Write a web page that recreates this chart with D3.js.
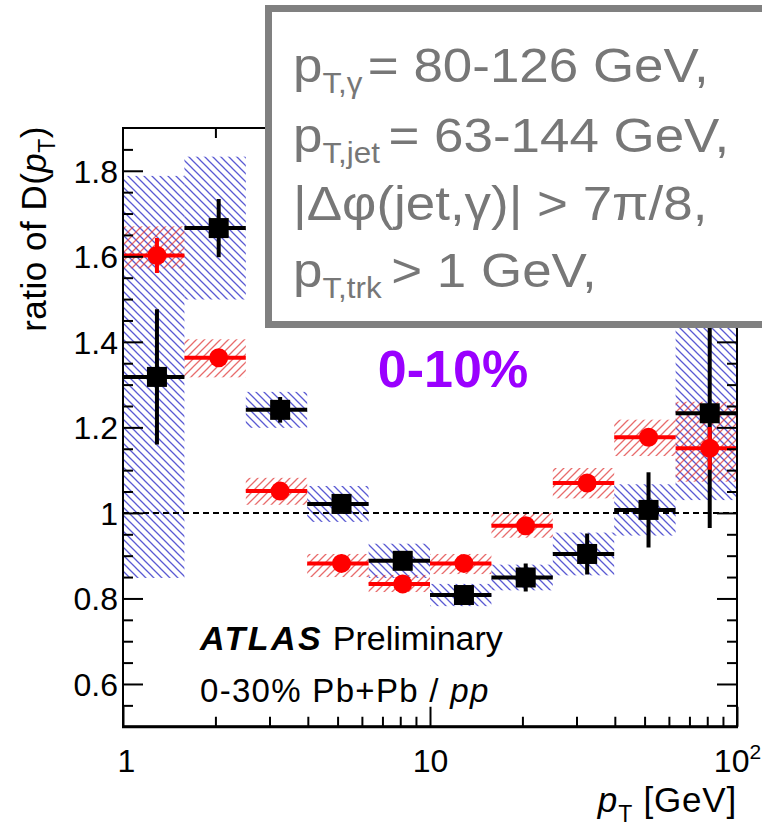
<!DOCTYPE html>
<html>
<head>
<meta charset="utf-8">
<script src="https://cdn.jsdelivr.net/npm/d3@7"></script>
<style>
  html, body { margin: 0; padding: 0; background: #fff; }
  svg { display: block; font-family: "Liberation Sans", Arial, Helvetica, sans-serif; }
</style>
</head>
<body>
<svg id="chart" width="762" height="829"></svg>
<script>
// pT bins (GeV): bin edges and bin centres
const binEdges = [1, 1.585, 2.512, 3.981, 6.310, 10, 15.85, 25.12, 39.81, 63.10, 100];
const binCenters = [1.29, 2.05, 3.25, 5.15, 8.15, 12.9, 20.5, 32.5, 51.5, 81.5];

// black squares: ratio, statistical and systematic uncertainties
const blackRatio = [1.318, 1.666, 1.241, 1.021, 0.888, 0.808, 0.849, 0.904, 1.007, 1.233];
const blackStat  = [0.158, 0.068, 0.030, 0.012, 0.020, 0.015, 0.033, 0.048, 0.088, 0.268];
const blackSys   = [0.470, 0.167, 0.042, 0.042, 0.040, 0.026, 0.030, 0.050, 0.060, 0.203];

// red circles: ratio, statistical and (asymmetric) systematic uncertainties
const redRatio   = [1.602, 1.363, 1.051, 0.882, 0.834, 0.882, 0.970, 1.070, 1.177, 1.151];
const redStat    = [0.041, 0.012, 0.010, 0.008, 0.008, 0.008, 0.010, 0.012, 0.020, 0.050];
const redSysUp   = [0.068, 0.043, 0.031, 0.022, 0.021, 0.022, 0.030, 0.035, 0.041, 0.109];
const redSysDown = [0.030, 0.046, 0.032, 0.032, 0.019, 0.025, 0.028, 0.036, 0.044, 0.078];

// axis ticks
const yMajorTicks = [0.6, 0.8, 1.0, 1.2, 1.4, 1.6, 1.8];
const yMinorTicks = [0.55, 0.65, 0.7, 0.75, 0.85, 0.9, 0.95, 1.05, 1.1, 1.15,
                     1.25, 1.3, 1.35, 1.45, 1.5, 1.55, 1.65, 1.7, 1.75, 1.85];
const xMajorTicks = [1, 10, 100];
const xMinorTicks = [2, 3, 4, 5, 6, 7, 8, 9, 20, 30, 40, 50, 60, 70, 80, 90];

// info box text
const infoLines = [
  {base: "p", sub: "T,γ", rest: "= 80-126 GeV,", gap: 5},
  {base: "p", sub: "T,jet", rest: "= 63-144 GeV,", gap: 8},
  {base: "|Δφ(jet,γ)| > 7π/8,", sub: null, rest: null, gap: 0},
  {base: "p", sub: "T,trk", rest: "> 1 GeV,", gap: 9}
];

const frame = {left: 123, right: 737, top: 128, bottom: 726.75};
const svg = d3.select("#chart");

const x = d3.scaleLog().domain([1, 100]).range([frame.left, frame.right]);
const y = d3.scaleLinear().domain([0.5, 1.9]).range([frame.bottom, frame.top]);

// hatch patterns
const defs = svg.append("defs");
defs.append("pattern").attr("id", "hatchBlue").attr("patternUnits", "userSpaceOnUse")
  .attr("width", 8).attr("height", 8)
  .append("path").attr("d", "M0,0 L8,8 M-2,6 L2,10 M6,-2 L10,2")
  .attr("stroke", "#3d3dcc").attr("stroke-width", 1.3).attr("stroke-opacity", 0.85);
defs.append("pattern").attr("id", "hatchRed").attr("patternUnits", "userSpaceOnUse")
  .attr("width", 8).attr("height", 8)
  .append("path").attr("d", "M0,8 L8,0 M-2,2 L2,-2 M6,10 L10,6")
  .attr("stroke", "#e03a3a").attr("stroke-width", 1.3).attr("stroke-opacity", 0.75);

defs.append("clipPath").attr("id", "plotClip").append("rect")
  .attr("x", frame.left).attr("y", frame.top)
  .attr("width", frame.right - frame.left).attr("height", frame.bottom - frame.top);

const plot = svg.append("g").attr("clip-path", "url(#plotClip)");

const bins = binCenters.map((c, i) => ({i, c, lo: binEdges[i], hi: binEdges[i + 1]}));

// systematic boxes
plot.append("g").selectAll("rect").data(bins).join("rect")
  .attr("x", d => x(d.lo)).attr("width", d => x(d.hi) - x(d.lo))
  .attr("y", d => y(blackRatio[d.i] + blackSys[d.i]))
  .attr("height", d => y(blackRatio[d.i] - blackSys[d.i]) - y(blackRatio[d.i] + blackSys[d.i]))
  .attr("fill", "url(#hatchBlue)");
plot.append("g").selectAll("rect").data(bins).join("rect")
  .attr("x", d => x(d.lo)).attr("width", d => x(d.hi) - x(d.lo))
  .attr("y", d => y(redRatio[d.i] + redSysUp[d.i]))
  .attr("height", d => y(redRatio[d.i] - redSysDown[d.i]) - y(redRatio[d.i] + redSysUp[d.i]))
  .attr("fill", "url(#hatchRed)");

// reference line at unity
plot.append("line")
  .attr("x1", frame.left).attr("x2", frame.right)
  .attr("y1", y(1)).attr("y2", y(1))
  .attr("stroke", "#000").attr("stroke-width", 2).attr("stroke-dasharray", "6,4");

// points with error bars
function drawSeries(vals, stat, color, shape) {
  const g = plot.append("g");
  g.selectAll("line.h").data(bins).join("line").attr("class", "h")
    .attr("x1", d => x(d.lo)).attr("x2", d => x(d.hi))
    .attr("y1", d => y(vals[d.i])).attr("y2", d => y(vals[d.i]))
    .attr("stroke", color).attr("stroke-width", 4);
  g.selectAll("line.v").data(bins).join("line").attr("class", "v")
    .attr("x1", d => x(d.c)).attr("x2", d => x(d.c))
    .attr("y1", d => y(vals[d.i] + stat[d.i])).attr("y2", d => y(vals[d.i] - stat[d.i]))
    .attr("stroke", color).attr("stroke-width", 4);
  if (shape === "square") {
    g.selectAll("rect").data(bins).join("rect")
      .attr("x", d => x(d.c) - 10).attr("y", d => y(vals[d.i]) - 10)
      .attr("width", 20).attr("height", 20).attr("fill", color);
  } else {
    g.selectAll("circle").data(bins).join("circle")
      .attr("cx", d => x(d.c)).attr("cy", d => y(vals[d.i])).attr("r", 9.5)
      .attr("fill", color);
  }
}
drawSeries(blackRatio, blackStat, "#000", "square");
drawSeries(redRatio, redStat, "#ff0000", "circle");

// axes
const axisFont = 32;
const yAxis = svg.append("g").attr("transform", `translate(${frame.left},0)`)
  .call(d3.axisLeft(y).tickValues(yMajorTicks).tickSize(-20).tickPadding(5).tickFormat(d3.format("~g")));
svg.append("g").attr("transform", `translate(${frame.left},0)`)
  .call(d3.axisLeft(y).tickValues(yMinorTicks).tickSize(-10).tickFormat(""));
svg.append("g").attr("transform", `translate(${frame.right},0)`)
  .call(d3.axisRight(y).tickValues(yMajorTicks).tickSize(-20).tickFormat(""));
svg.append("g").attr("transform", `translate(${frame.right},0)`)
  .call(d3.axisRight(y).tickValues(yMinorTicks).tickSize(-10).tickFormat(""));

const xAxis = svg.append("g").attr("transform", `translate(0,${frame.bottom})`)
  .call(d3.axisBottom(x).tickValues(xMajorTicks).tickSize(-20).tickPadding(22).tickFormat(() => ""));
svg.append("g").attr("transform", `translate(0,${frame.bottom})`)
  .call(d3.axisBottom(x).tickValues(xMinorTicks).tickSize(-10).tickFormat(""));
svg.append("g").attr("transform", `translate(0,${frame.top})`)
  .call(d3.axisTop(x).tickValues(xMinorTicks).tickSize(-10).tickFormat(""));

svg.selectAll(".domain").remove();
svg.selectAll(".tick line").attr("stroke", "#000").attr("stroke-width", 2);
yAxis.selectAll("text").attr("font-size", axisFont).attr("fill", "#000")
  .attr("dy", "0.36em");

// x tick labels: 1, 10, 10^2
xAxis.selectAll(".tick").each(function(d) {
  const t = d3.select(this).select("text").attr("font-size", axisFont).attr("fill", "#000")
    .attr("y", 45).attr("dy", 0).text(null);
  if (d === 100) {
    t.append("tspan").text("10");
    t.append("tspan").attr("font-size", 21).attr("dy", -13).text("2");
  } else {
    t.attr("x", d === 1 ? 3 : 0).text(d3.format("d")(d));
  }
});

// frame
svg.append("rect")
  .attr("x", frame.left).attr("y", frame.top)
  .attr("width", frame.right - frame.left).attr("height", frame.bottom - frame.top)
  .attr("fill", "none").attr("stroke", "#000").attr("stroke-width", 2);
svg.append("line")
  .attr("x1", frame.left - 1).attr("x2", frame.right + 1)
  .attr("y1", frame.bottom).attr("y2", frame.bottom)
  .attr("stroke", "#000").attr("stroke-width", 3);

// axis titles
const yTitle = svg.append("text")
  .attr("transform", `translate(46,${frame.top - 2}) rotate(-90)`)
  .attr("text-anchor", "end").attr("font-size", 35).attr("letter-spacing", 0.5).attr("fill", "#000");
yTitle.append("tspan").text("ratio of D(");
yTitle.append("tspan").attr("font-style", "italic").text("p");
yTitle.append("tspan").attr("font-size", 23).attr("dy", 9).text("T");
yTitle.append("tspan").attr("dy", -9).text(")");

const xTitle = svg.append("text")
  .attr("x", frame.right).attr("y", 812)
  .attr("text-anchor", "end").attr("font-size", 35).attr("letter-spacing", 0.8).attr("fill", "#000");
xTitle.append("tspan").attr("font-style", "italic").text("p");
xTitle.append("tspan").attr("font-size", 23).attr("dy", 10).text("T");
xTitle.append("tspan").attr("dy", -10).text(" [GeV]");

// experiment labels
const atlas = svg.append("text").attr("x", 200).attr("y", 650)
  .attr("font-size", 34).attr("fill", "#000");
atlas.append("tspan").attr("font-weight", "bold").attr("font-style", "italic")
  .attr("letter-spacing", 2.5).text("ATLAS");
atlas.append("tspan").text(" Preliminary");

const sample = svg.append("text").attr("x", 200).attr("y", 702)
  .attr("font-size", 33).attr("letter-spacing", 1.3).attr("fill", "#000");
sample.append("tspan").text("0-30% Pb+Pb / ");
sample.append("tspan").attr("font-style", "italic").text("pp");

svg.append("text").attr("x", 453).attr("y", 387).attr("text-anchor", "middle")
  .attr("font-size", 52).attr("font-weight", "bold").attr("fill", "#9a00ff").text("0-10%");

// selection info box
svg.append("rect").attr("x", 268.5).attr("y", 8.5).attr("width", 520).attr("height", 316)
  .attr("fill", "#fff").attr("stroke", "#808080").attr("stroke-width", 7);

const infoBaselines = [82, 152, 220, 287];
const info = svg.append("g").attr("transform", "translate(293,0) scale(1.08,1)");
infoLines.forEach((ln, i) => {
  const t = info.append("text").attr("x", 0).attr("y", infoBaselines[i])
    .attr("font-size", 49).attr("fill", "#777");
  t.append("tspan").text(ln.base);
  if (ln.sub) {
    t.append("tspan").attr("font-size", 29).attr("dy", 11).text(ln.sub);
    t.append("tspan").attr("dy", -11).attr("dx", ln.gap).text(ln.rest);
  }
});
</script>
</body>
</html>
